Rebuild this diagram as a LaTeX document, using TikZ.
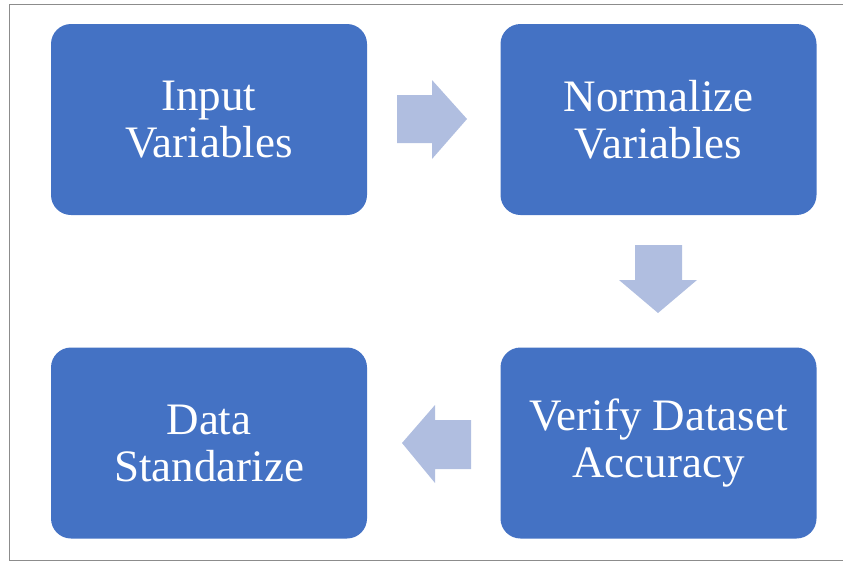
\documentclass[tikz,border=0pt]{standalone}
\usepackage{fontspec}
\setmainfont{Liberation Serif}
\definecolor{boxblue}{RGB}{68,114,196}
\definecolor{arrowblue}{RGB}{176,190,224}
\definecolor{framegray}{RGB}{140,140,140}
\begin{document}
\begin{tikzpicture}[x=1pt,y=-1pt,
  stepbox/.style={rectangle,rounded corners=20pt,fill=boxblue,draw=none,
    minimum width=316pt,minimum height=191pt,text=white,align=center,
    font=\fontsize{45}{47}\selectfont,inner sep=0pt},
  blockarrow/.style={fill=arrowblue,draw=none}]
\useasboundingbox (0,0) rectangle (843,563);
\draw[framegray,line width=1.2pt] (843,4.5) -- (9.5,4.5) -- (9.5,560.5) -- (843,560.5);
\node[stepbox] (a) at (209,119.5) {Input\\Variables};
\node[stepbox] (b) at (658.5,119.5) {Normalize\\Variables};
\node[stepbox] (c) at (658.5,443) {Verify Dataset\\Accuracy};
\node[stepbox] (d) at (209,443) {Data\\Standarize};
% right arrow
\fill[blockarrow] (397,95) -- (432,95) -- (432,80) -- (467,119) -- (432,159) -- (432,143) -- (397,143) -- cycle;
% down arrow
\fill[blockarrow] (635,245) -- (682,245) -- (682,280) -- (697,280) -- (658,313) -- (619,280) -- (635,280) -- cycle;
% left arrow
\fill[blockarrow] (471,420) -- (435,420) -- (435,405) -- (402,443) -- (435,483) -- (435,469) -- (471,469) -- cycle;
\end{tikzpicture}
\end{document}
